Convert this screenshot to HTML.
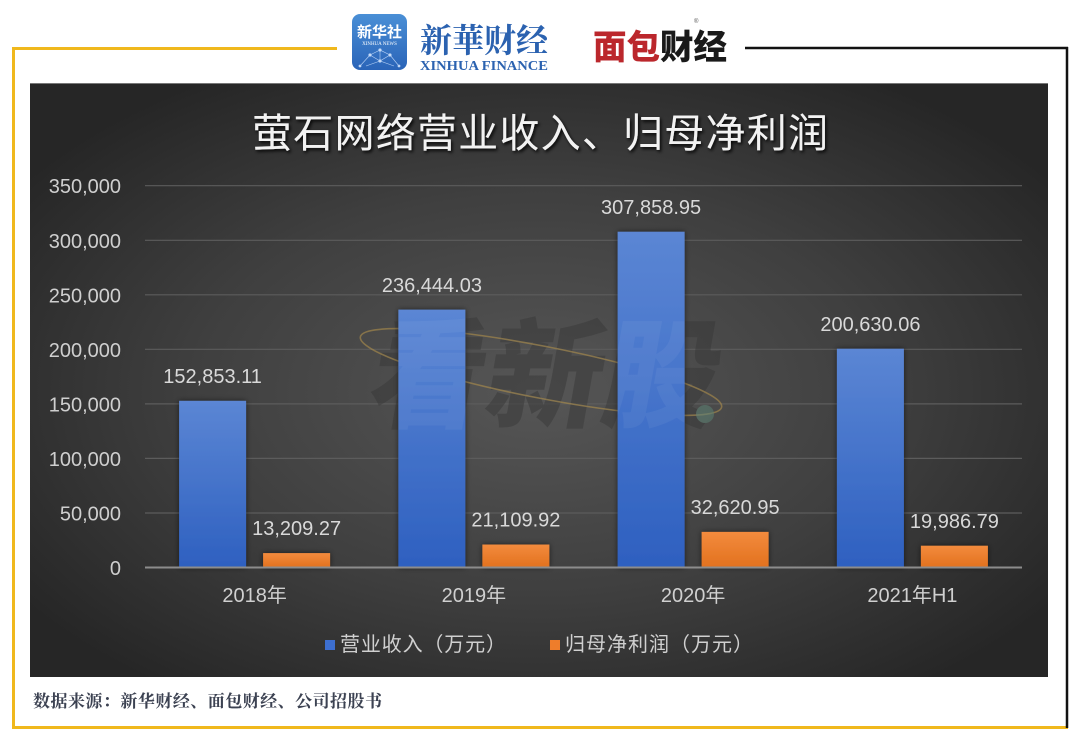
<!DOCTYPE html>
<html><head><meta charset="utf-8">
<style>
html,body{margin:0;padding:0;background:#fff;}
svg{display:block;}
</style></head>
<body>
<svg width="1080" height="741" viewBox="0 0 1080 741" xmlns="http://www.w3.org/2000/svg">
<defs>
  <radialGradient id="bg" cx="0.5" cy="0.52" r="0.62">
    <stop offset="0" stop-color="#565656"/>
    <stop offset="0.55" stop-color="#3f3f3f"/>
    <stop offset="1" stop-color="#262626"/>
  </radialGradient>
  <linearGradient id="blue" x1="0" y1="0" x2="0" y2="1">
    <stop offset="0" stop-color="#5b86d4"/>
    <stop offset="1" stop-color="#2e60c0"/>
  </linearGradient>
  <linearGradient id="orange" x1="0" y1="0" x2="0" y2="1">
    <stop offset="0" stop-color="#f38b3d"/>
    <stop offset="1" stop-color="#e2711e"/>
  </linearGradient>
  <linearGradient id="xh" x1="0" y1="0" x2="0" y2="1">
    <stop offset="0" stop-color="#4a8fd6"/>
    <stop offset="1" stop-color="#2a64b8"/>
  </linearGradient>
  <linearGradient id="sep" x1="0" y1="0" x2="0" y2="1">
    <stop offset="0" stop-color="#2a5ea8"/>
    <stop offset="0.5" stop-color="#7a5a8a"/>
    <stop offset="1" stop-color="#c0282d"/>
  </linearGradient>
  <filter id="sh" x="-30%" y="-10%" width="160%" height="130%">
    <feDropShadow dx="0" dy="0" stdDeviation="3" flood-color="#000" flood-opacity="0.55"/>
  </filter>
  <filter id="tsh" x="-10%" y="-30%" width="120%" height="160%">
    <feDropShadow dx="1.5" dy="2" stdDeviation="1.5" flood-color="#000" flood-opacity="0.9"/>
  </filter>
</defs>

<!-- frame -->
<rect x="0" y="0" width="1080" height="741" fill="#fff"/>
<line x1="12" y1="48.5" x2="337" y2="48.5" stroke="#f0b81c" stroke-width="3"/>
<line x1="13.5" y1="47" x2="13.5" y2="729" stroke="#f0b81c" stroke-width="3"/>
<line x1="12" y1="727.5" x2="1068" y2="727.5" stroke="#f0b81c" stroke-width="3"/>
<line x1="745" y1="48" x2="1068" y2="48" stroke="#111" stroke-width="2.5"/>
<line x1="1067" y1="47" x2="1067" y2="728" stroke="#111" stroke-width="2.5"/>

<!-- logos -->
<rect x="352" y="14" width="55" height="56" rx="8" fill="url(#xh)"/>
<text x="379.5" y="37" font-family="'Liberation Sans','Noto Sans CJK SC',sans-serif" font-size="15" font-weight="bold" fill="#fff" text-anchor="middle">新华社</text>
<text x="379.5" y="45" font-family="'Liberation Serif',serif" font-size="5" fill="#fff" text-anchor="middle">XINHUA NEWS</text>
<g stroke="#cfe3ff" stroke-width="0.6" fill="#e8f2ff" opacity="0.85">
  <line x1="360" y1="66" x2="370" y2="55"/><line x1="370" y1="55" x2="380" y2="50"/><line x1="380" y1="50" x2="390" y2="55"/><line x1="390" y1="55" x2="399" y2="66"/>
  <line x1="370" y1="55" x2="380" y2="61"/><line x1="380" y1="61" x2="390" y2="55"/><line x1="380" y1="50" x2="380" y2="61"/><line x1="366" y1="66" x2="380" y2="61"/><line x1="380" y1="61" x2="394" y2="66"/>
  <circle cx="370" cy="55" r="1.3"/><circle cx="380" cy="50" r="1.3"/><circle cx="390" cy="55" r="1.3"/><circle cx="380" cy="61" r="1.3"/><circle cx="360" cy="66" r="1.1"/><circle cx="399" cy="66" r="1.1"/>
</g>
<text x="420" y="52" font-family="'Noto Serif CJK SC',serif" font-size="33" font-weight="bold" fill="#2b62b0" textLength="128" lengthAdjust="spacingAndGlyphs">新華财经</text>
<text x="420" y="70" font-family="'Liberation Serif',serif" font-size="13.5" font-weight="bold" fill="#2b62b0" textLength="128" lengthAdjust="spacingAndGlyphs">XINHUA FINANCE</text>
<line x1="574" y1="20" x2="574" y2="72" stroke="url(#sep)" stroke-width="2"/>
<text x="593" y="59" font-family="'Noto Sans CJK SC',sans-serif" font-size="34" font-weight="900" textLength="134" lengthAdjust="spacingAndGlyphs"><tspan fill="#bb272c">面包</tspan><tspan fill="#1a1a1a">财经</tspan></text>
<text x="694" y="23" font-family="'Liberation Sans',sans-serif" font-size="6" fill="#555">®</text>

<!-- chart panel -->
<rect x="30" y="83" width="1018" height="594" fill="url(#bg)"/>
<line x1="30" y1="83.5" x2="1048" y2="83.5" stroke="#777" stroke-width="1"/>

<!-- title -->
<text x="540" y="147" font-family="'Liberation Sans','Noto Sans CJK SC',sans-serif" font-size="40" fill="#f2f2f2" text-anchor="middle" filter="url(#tsh)" textLength="576" lengthAdjust="spacing">萤石网络营业收入、归母净利润</text>

<!-- gridlines -->
<g stroke="#5c5c5c" stroke-width="1.2">
  <line x1="145" y1="185.7" x2="1022" y2="185.7"/>
  <line x1="145" y1="240.3" x2="1022" y2="240.3"/>
  <line x1="145" y1="294.8" x2="1022" y2="294.8"/>
  <line x1="145" y1="349.3" x2="1022" y2="349.3"/>
  <line x1="145" y1="403.9" x2="1022" y2="403.9"/>
  <line x1="145" y1="458.4" x2="1022" y2="458.4"/>
  <line x1="145" y1="513" x2="1022" y2="513"/>
</g>

<!-- y labels -->
<g font-family="'Liberation Sans',sans-serif" font-size="20" fill="#cfcfcf" text-anchor="end">
  <text x="121" y="193.2">350,000</text>
  <text x="121" y="247.8">300,000</text>
  <text x="121" y="302.3">250,000</text>
  <text x="121" y="356.8">200,000</text>
  <text x="121" y="411.4">150,000</text>
  <text x="121" y="465.9">100,000</text>
  <text x="121" y="520.5">50,000</text>
  <text x="121" y="575">0</text>
</g>

<!-- watermark -->
<g>
  <text x="540" y="418" font-family="'Noto Sans CJK SC',sans-serif" font-size="118" font-weight="900" fill="#1c1c1c" fill-opacity="0.42" text-anchor="middle" transform="skewX(-10) translate(73,0)" textLength="350" lengthAdjust="spacingAndGlyphs">看新股</text>
  <ellipse cx="541" cy="372" rx="184" ry="26" fill="none" stroke="#b8954a" stroke-opacity="0.55" stroke-width="1.6" transform="rotate(11 541 372)"/>
  <circle cx="705" cy="414" r="9" fill="#5a7d70" fill-opacity="0.6"/>
</g>

<!-- bars -->
<g filter="url(#sh)">
  <rect x="179.1" y="400.8" width="67" height="166.7" fill="url(#blue)"/>
  <rect x="263.1" y="553.1" width="67" height="14.4" fill="url(#orange)"/>
  <rect x="398.4" y="309.6" width="67" height="257.9" fill="url(#blue)"/>
  <rect x="482.4" y="544.5" width="67" height="23" fill="url(#orange)"/>
  <rect x="617.6" y="231.7" width="67" height="335.8" fill="url(#blue)"/>
  <rect x="701.6" y="531.9" width="67" height="35.6" fill="url(#orange)"/>
  <rect x="836.9" y="348.7" width="67" height="218.8" fill="url(#blue)"/>
  <rect x="920.9" y="545.7" width="67" height="21.8" fill="url(#orange)"/>
</g>

<!-- watermark overlay on bars (subtle) -->
<text x="540" y="418" font-family="'Noto Sans CJK SC',sans-serif" font-size="118" font-weight="900" fill="#ffffff" fill-opacity="0.05" text-anchor="middle" transform="skewX(-10) translate(73,0)" textLength="350" lengthAdjust="spacingAndGlyphs">看新股</text>

<!-- axis -->
<line x1="145" y1="567.5" x2="1022" y2="567.5" stroke="#8c8c8c" stroke-width="2"/>

<!-- data labels -->
<g font-family="'Liberation Sans',sans-serif" font-size="20" fill="#d9d9d9" text-anchor="middle">
  <text x="212.6" y="383">152,853.11</text>
  <text x="296.6" y="535.2">13,209.27</text>
  <text x="431.9" y="291.8">236,444.03</text>
  <text x="515.9" y="526.6">21,109.92</text>
  <text x="651.1" y="213.9">307,858.95</text>
  <text x="735.1" y="514">32,620.95</text>
  <text x="870.4" y="330.9">200,630.06</text>
  <text x="954.4" y="527.8">19,986.79</text>
</g>

<!-- category labels -->
<g font-family="'Liberation Sans','Noto Sans CJK SC',sans-serif" font-size="20" fill="#d0d0d0" text-anchor="middle">
  <text x="254.6" y="602">2018年</text>
  <text x="473.9" y="602">2019年</text>
  <text x="693.1" y="602">2020年</text>
  <text x="912.4" y="602">2021年H1</text>
</g>

<!-- legend -->
<rect x="325" y="640" width="10" height="10" fill="#3d6fd0"/>
<text x="340" y="651" font-family="'Liberation Sans','Noto Sans CJK SC',sans-serif" font-size="20" fill="#d0d0d0" textLength="166" lengthAdjust="spacing">营业收入（万元）</text>
<rect x="550" y="640" width="10" height="10" fill="#ee7d2b"/>
<text x="565" y="651" font-family="'Liberation Sans','Noto Sans CJK SC',sans-serif" font-size="20" fill="#d0d0d0" textLength="188" lengthAdjust="spacing">归母净利润（万元）</text>

<!-- footer -->
<text x="33" y="707" font-family="'Noto Serif CJK SC',serif" font-size="17" font-weight="bold" fill="#3c4252" textLength="349" lengthAdjust="spacing">数据来源：新华财经、面包财经、公司招股书</text>
</svg>
</body></html>
